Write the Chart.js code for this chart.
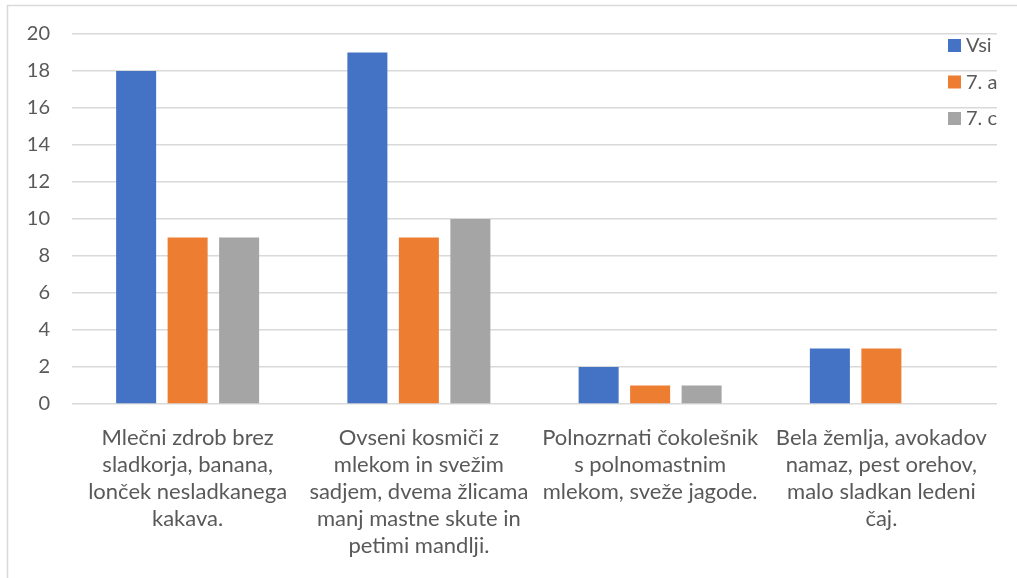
<!DOCTYPE html>
<html>
<head>
<meta charset="utf-8">
<script src="https://cdn.jsdelivr.net/npm/chart.js@4/dist/chart.umd.min.js"></script>
<style>
html,body{margin:0;padding:0;background:#fff;}
#wrap{position:relative;width:1017px;height:578px;}
</style>
</head>
<body>
<div id="wrap"><canvas id="c" width="1017" height="578"></canvas></div>
<script>
const categories = [
  ["Mlečni zdrob brez", "sladkorja, banana,", "lonček nesladkanega", "kakava."],
  ["Ovseni kosmiči z", "mlekom in svežim", "sadjem, dvema žlicama", "manj mastne skute in", "petimi mandlji."],
  ["Polnozrnati čokolešnik", "s polnomastnim", "mlekom, sveže jagode."],
  ["Bela žemlja, avokadov", "namaz, pest orehov,", "malo sladkan ledeni", "čaj."]
];
const seriesNames = ["Vsi", "7. a", "7. c"];
const vsi = [18, 19, 2, 3];
const razredA = [9, 9, 1, 3];
const razredC = [9, 10, 1, 0];
const yTicks = [0, 2, 4, 6, 8, 10, 12, 14, 16, 18, 20];
const colors = ["#4472C4", "#ED7D31", "#A5A5A5"];

const FONT = "Lato, 'Open Sans', sans-serif";
const TEXT = "#595959";

const framePlugin = {
  id: 'frame',
  beforeDraw(chart) {
    const ctx = chart.ctx;
    ctx.save();
    ctx.strokeStyle = "#D9D9D9";
    ctx.lineWidth = 1.5;
    ctx.beginPath();
    ctx.moveTo(7.5, 578);
    ctx.lineTo(7.5, 5.5);
    ctx.lineTo(1017, 5.5);
    ctx.stroke();
    ctx.restore();
  }
};

const legendPlugin = {
  id: 'customLegend',
  afterDraw(chart) {
    const ctx = chart.ctx;
    ctx.save();
    ctx.font = "20px " + FONT;
    ctx.textBaseline = "middle";
    chart.data.datasets.forEach((ds, i) => {
      const y = 45 + i * 36.5;
      ctx.fillStyle = ds.backgroundColor;
      ctx.fillRect(948, y - 6, 13, 13);
      ctx.fillStyle = TEXT;
      ctx.fillText(ds.label, 966, y + 1);
    });
    ctx.restore();
  }
};

new Chart(document.getElementById('c'), {
  type: 'bar',
  data: {
    labels: categories,
    datasets: [
      { label: seriesNames[0], data: vsi, backgroundColor: colors[0] },
      { label: seriesNames[1], data: razredA, backgroundColor: colors[1] },
      { label: seriesNames[2], data: razredC, backgroundColor: colors[2] }
    ]
  },
  options: {
    responsive: false,
    animation: false,
    devicePixelRatio: 1,
    categoryPercentage: 0.668,
    barPercentage: 0.777,
    layout: { padding: { left: 0, top: 34, right: 20, bottom: 0 } },
    plugins: {
      legend: { display: false },
      title: { display: false },
      tooltip: { enabled: false }
    },
    scales: {
      x: {
        grid: { display: false },
        border: { display: false },
        ticks: {
          color: TEXT,
          font: { family: FONT, size: 22, lineHeight: 1.227 },
          maxRotation: 0,
          autoSkip: false,
          padding: 12
        },
        afterFit(scale) { scale.height = 174; }
      },
      y: {
        min: 0,
        max: 20,
        afterBuildTicks(scale) { scale.ticks = yTicks.map(v => ({ value: v })); },
        grid: { color: "#D9D9D9", lineWidth: 1.5, drawTicks: false },
        border: { display: false },
        ticks: {
          color: TEXT,
          font: { family: FONT, size: 20 },
          padding: 22
        },
        afterFit(scale) { scale.width = 72; }
      }
    }
  },
  plugins: [framePlugin, legendPlugin]
});
</script>
</body>
</html>
